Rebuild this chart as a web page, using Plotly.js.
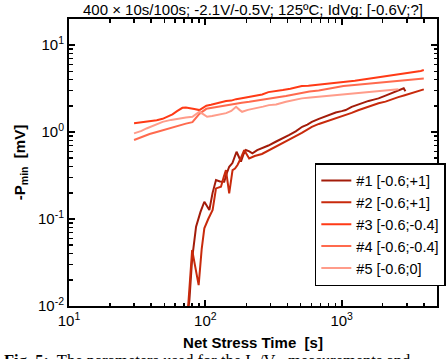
<!DOCTYPE html>
<html>
<head>
<meta charset="utf-8">
<script src="https://cdn.plot.ly/plotly-3.0.1.min.js"></script>
<style>html,body{margin:0;padding:0;background:#fff;overflow:hidden;width:446px;height:359px;}#chart{width:480px;height:359px;}</style>
</head>
<body>
<div id="chart"></div>
<script>
// ---- data ----
const seriesNames = ["#1 [-0.6;+1]", "#2 [-0.6;+1]", "#3 [-0.6;-0.4]", "#4 [-0.6;-0.4]", "#5 [-0.6;0]"];
const seriesColors = ["#a31c0a", "#c82a0c", "#ff3a16", "#ff6a4e", "#ff9c8a"];

const t1 = [70, 76.4, 80, 85.5, 92, 98.3, 103, 107, 113, 119.7, 128, 137.6, 143, 149.6, 158, 165, 169.3, 176, 182.3, 190, 198.2, 210, 221.4, 240, 260.7, 290, 328, 370, 410, 460, 513, 560, 604, 680, 764, 830, 904, 1000, 1070, 1183, 1300, 1420, 1574, 1720, 1862, 2095, 2300, 2500, 2696, 2850, 2933];
const p1 = [0.004, 0.0117, 0.035, 0.0816, 0.12, 0.158, 0.14, 0.127, 0.2, 0.281, 0.27, 0.268, 0.33, 0.399, 0.44, 0.52, 0.594, 0.52, 0.456, 0.55, 0.621, 0.60, 0.569, 0.62, 0.65, 0.70, 0.774, 0.84, 0.92, 1.02, 1.15, 1.22, 1.31, 1.42, 1.52, 1.62, 1.68, 1.74, 1.79, 1.95, 2.05, 2.18, 2.28, 2.36, 2.44, 2.62, 2.78, 2.95, 3.08, 3.18, 2.95];

const t2 = [70, 75.1, 80, 84, 89.3, 94, 98.3, 105, 113.1, 119.7, 125, 130.2, 136, 141.6, 149.6, 158.3, 165, 172.1, 182, 192.7, 209.5, 230, 260, 295, 330, 370, 410, 460, 510, 560, 604, 680, 770, 870, 970, 1070, 1183, 1320, 1460, 1574, 1720, 1862, 2095, 2350, 2600, 2900, 3200, 3500, 3750, 4000];
const p2 = [0.003, 0.0108, 0.044, 0.028, 0.0174, 0.045, 0.0781, 0.10, 0.127, 0.225, 0.23, 0.235, 0.30, 0.366, 0.197, 0.366, 0.38, 0.418, 0.50, 0.621, 0.498, 0.53, 0.56, 0.62, 0.68, 0.74, 0.82, 0.90, 0.98, 1.06, 1.15, 1.24, 1.32, 1.40, 1.48, 1.57, 1.66, 1.78, 1.88, 1.98, 2.05, 2.14, 2.24, 2.40, 2.52, 2.65, 2.78, 2.92, 3.00, 3.10];

const t3 = [30, 34, 39, 44, 48.6, 53, 57.4, 62, 67.9, 72, 76.4, 83, 90.4, 96, 101.7, 110, 120, 130, 142, 155, 168, 185, 210, 235, 261, 290, 330, 370, 420, 470, 510, 570, 640, 720, 800, 904, 1000, 1120, 1250, 1400, 1574, 1750, 1950, 2200, 2450, 2742, 3000, 3300, 3600, 3800, 4000];
const p3 = [1.26, 1.29, 1.33, 1.37, 1.42, 1.50, 1.60, 1.74, 1.90, 1.92, 1.90, 1.84, 1.79, 1.90, 2.01, 2.06, 2.14, 2.18, 2.27, 2.30, 2.39, 2.45, 2.55, 2.60, 2.71, 2.88, 2.95, 3.04, 3.15, 3.26, 3.38, 3.40, 3.46, 3.55, 3.60, 3.70, 3.74, 3.83, 3.88, 3.99, 4.10, 4.16, 4.28, 4.40, 4.50, 4.62, 4.72, 4.85, 4.98, 5.05, 5.16];

const t4 = [30, 34, 39, 44, 48.6, 57, 64.6, 72, 80.4, 90.4, 101.7, 112, 120, 130, 142, 155, 168, 185, 210, 235, 261, 300, 340, 390, 450, 510, 580, 679, 780, 904, 1030, 1183, 1350, 1574, 1800, 2095, 2400, 2742, 3100, 3500, 4000];
const p4 = [0.81, 0.88, 0.95, 1.00, 1.05, 1.12, 1.20, 1.25, 1.30, 1.62, 1.85, 1.90, 1.95, 1.98, 2.04, 2.08, 2.14, 2.17, 2.23, 2.30, 2.35, 2.47, 2.52, 2.60, 2.72, 2.86, 2.92, 3.00, 3.12, 3.32, 3.38, 3.45, 3.52, 3.63, 3.70, 3.80, 3.88, 3.96, 4.02, 4.08, 4.14];

const t5 = [30, 34, 37, 42, 48.6, 56, 64.6, 72, 80.4, 90.4, 97, 103, 112, 120, 130, 142, 155, 168, 178, 186, 205, 236, 265, 293, 330, 390, 450, 510, 590, 679, 790, 904, 1040, 1183, 1370, 1574, 1800, 2095, 2350, 2607];
const p5 = [0.966, 1.03, 1.10, 1.20, 1.31, 1.38, 1.44, 1.47, 1.50, 1.71, 1.60, 1.50, 1.53, 1.57, 1.60, 1.65, 1.75, 1.95, 1.80, 1.71, 1.80, 1.87, 1.96, 2.04, 2.08, 2.23, 2.35, 2.44, 2.50, 2.55, 2.62, 2.66, 2.70, 2.73, 2.80, 2.86, 2.92, 2.96, 3.02, 3.10];

const xTickVals = [10, 100, 1000];
const xTickText = ["10<sup>1</sup>", "10<sup>2</sup>", "10<sup>3</sup>"];
const xMinorVals = [20,30,40,50,60,70,80,90,200,300,400,500,600,700,800,900,2000,3000,4000];
const yTickVals = [0.01, 0.1, 1, 10];
const yTickText = ["10<sup>-2</sup>", "10<sup>-1</sup>", "10<sup>0</sup>", "10<sup>1</sup>"];
const yMinorVals = [0.02,0.03,0.04,0.05,0.06,0.07,0.08,0.09,0.2,0.3,0.4,0.5,0.6,0.7,0.8,0.9,2,3,4,5,6,7,8,9,20];

const titleText = "400 × 10s/100s; -2.1V/-0.5V; 125ºC; IdVg: [-0.6V;?]";
const captionText = "<b>Fig. 5:</b>  The parameters used for the I<sub>D</sub>/V<sub>G</sub> measurements and";

// ---- chart ----
const xs = [t1, t2, t3, t4, t5];
const ys = [p1, p2, p3, p4, p5];
const traces = xs.map((x, i) => ({
  x: x, y: ys[i], type: 'scatter', mode: 'lines', name: seriesNames[i],
  line: {color: seriesColors[i], width: 2}
}));

const font = "Liberation Sans, Arial, Helvetica, sans-serif";
const axisCommon = {
  type: 'log', showgrid: false, zeroline: false,
  showline: true, linecolor: '#000', linewidth: 2, mirror: 'ticks',
  ticks: 'inside', ticklen: 6, tickwidth: 2, tickcolor: '#000',
  tickmode: 'array', tickfont: {family: font, size: 15, color: '#000'},
  minor: {ticks: 'inside', ticklen: 3.5, tickwidth: 1.5, tickcolor: '#000', showgrid: false}
};

const layout = {
  width: 480, height: 359,
  margin: {l: 69, r: 43, t: 19, b: 53},
  paper_bgcolor: '#fff', plot_bgcolor: '#fff',
  font: {family: font, color: '#000'},
  showlegend: true,
  title: {text: titleText, font: {family: font, size: 15, color: '#000'},
          x: 0.5, xref: 'paper', xanchor: 'center', y: 0.972, yref: 'container', yanchor: 'middle'},
  xaxis: Object.assign({}, axisCommon, {
    range: [1, Math.log10(5000)],
    tickvals: xTickVals, ticktext: xTickText,
    minor: Object.assign({}, axisCommon.minor, {tickvals: xMinorVals}),
    title: {text: "<b>Net Stress Time  [s]</b>", font: {family: font, size: 15, color: '#000'}, standoff: 9}
  }),
  yaxis: Object.assign({}, axisCommon, {
    range: [-2, 1.3],
    tickvals: yTickVals, ticktext: yTickText,
    minor: Object.assign({}, axisCommon.minor, {tickvals: yMinorVals}),
    title: {text: "<b>-P<sub>min</sub>  [mV]</b>", font: {family: font, size: 15, color: '#000'}, standoff: 9}
  }),
  legend: {
    x: 0.668, y: 0.498, xanchor: 'left', yanchor: 'top',
    bgcolor: '#fff', bordercolor: '#000', borderwidth: 1.5,
    font: {family: font, size: 14.5, color: '#000'},
    itemwidth: 30, tracegroupgap: 0
  },
  annotations: [{
    text: captionText, xref: 'paper', yref: 'paper',
    x: -0.183, y: -0.19, xanchor: 'left', yanchor: 'middle', showarrow: false,
    font: {family: "Liberation Serif, Times New Roman, serif", size: 16.5, color: '#000'}
  }]
};

Plotly.newPlot('chart', traces, layout, {staticPlot: true, displayModeBar: false});
</script>
</body>
</html>
